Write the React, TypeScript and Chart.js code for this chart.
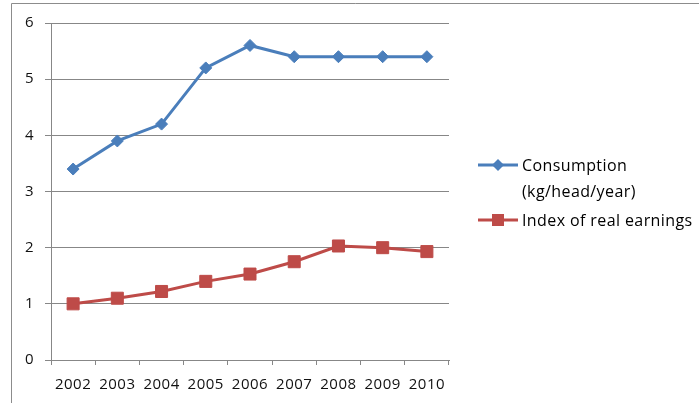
import React, { useEffect, useRef } from "react";
import { Chart, registerables } from "chart.js";

Chart.register(...registerables);

const years = ["2002", "2003", "2004", "2005", "2006", "2007", "2008", "2009", "2010"];
const consumption = [3.4, 3.9, 4.2, 5.2, 5.6, 5.4, 5.4, 5.4, 5.4];
const earnings = [1.0, 1.1, 1.22, 1.4, 1.53, 1.75, 2.03, 2.0, 1.93];
const seriesNames = ["Consumption (kg/head/year)", "Index of real earnings"];
const legendLines = [["Consumption", "(kg/head/year)"], ["Index of real earnings"]];
const yMin = 0;
const yMax = 6;
const yStep = 1;

const BLUE = "#4a7ebb";
const RED = "#be4b48";
const GRID = "#878787";
const FONT = "'Open Sans', Lato, sans-serif";

function drawMarker(ctx: CanvasRenderingContext2D, style: string, x: number, y: number, r: number, color: string) {
  ctx.save();
  ctx.fillStyle = color;
  ctx.beginPath();
  if (style === "rectRot") {
    ctx.moveTo(x, y - r);
    ctx.lineTo(x + r, y);
    ctx.lineTo(x, y + r);
    ctx.lineTo(x - r, y);
    ctx.closePath();
  } else {
    const s = Math.SQRT1_2 * r;
    ctx.rect(x - s, y - s, 2 * s, 2 * s);
  }
  ctx.fill();
  ctx.restore();
}

const framePlugin = {
  id: "frameAndLegend",
  beforeDraw(chart: any) {
    (chart.ctx as any).letterSpacing = "0.5px";
  },
  afterDraw(chart: any) {
    const ctx: CanvasRenderingContext2D = chart.ctx;
    ctx.save();
    // outer frame (partially cropped in the reference)
    ctx.strokeStyle = "#8c8c8c";
    ctx.lineWidth = 1;
    ctx.beginPath();
    ctx.moveTo(11.5, 403);
    ctx.lineTo(11.5, 3.5);
    ctx.lineTo(699, 3.5);
    ctx.stroke();

    // legend
    const lx0 = 478;
    const lx1 = 518;
    const tx = 522;
    const rows = [165, 220];
    ctx.font = `16px ${FONT}`;
    (ctx as any).letterSpacing = "0.4px";
    ctx.textBaseline = "middle";
    ctx.textAlign = "left";
    chart.data.datasets.forEach((ds: any, i: number) => {
      const y = rows[i];
      ctx.strokeStyle = ds.borderColor;
      ctx.lineWidth = 3;
      ctx.beginPath();
      ctx.moveTo(lx0, y);
      ctx.lineTo(lx1, y);
      ctx.stroke();
      drawMarker(ctx, ds.pointStyle, (lx0 + lx1) / 2, y, ds.pointRadius, ds.borderColor);
      ctx.fillStyle = "#000";
      legendLines[i].forEach((line, j) => {
        ctx.fillText(line, tx, y + 1.5 + j * 26);
      });
    });
    ctx.restore();
  },
};

export default function App() {
  const ref = useRef<HTMLCanvasElement | null>(null);

  useEffect(() => {
    if (!ref.current) return;
    const chart = new Chart(ref.current, {
      type: "line",
      data: {
        labels: years,
        datasets: [
          {
            label: seriesNames[0],
            data: consumption,
            borderColor: BLUE,
            backgroundColor: BLUE,
            pointBackgroundColor: BLUE,
            pointBorderColor: BLUE,
            borderWidth: 3,
            pointStyle: "rectRot",
            pointRadius: 6,
            pointBorderWidth: 1,
            tension: 0,
          },
          {
            label: seriesNames[1],
            data: earnings,
            borderColor: RED,
            backgroundColor: RED,
            pointBackgroundColor: RED,
            pointBorderColor: RED,
            borderWidth: 3,
            pointStyle: "rect",
            pointRadius: 8.5,
            pointBorderWidth: 1,
            tension: 0,
          },
        ],
      },
      options: {
        responsive: false,
        animation: false,
        devicePixelRatio: 1,
        layout: { padding: { top: 23, right: 250, left: 0, bottom: 0 } },
        plugins: {
          legend: { display: false },
          tooltip: { enabled: false },
        },
        scales: {
          x: {
            type: "category",
            offset: true,
            grid: {
              display: true,
              drawOnChartArea: false,
              drawTicks: true,
              tickLength: 5,
              color: GRID,
              offset: true,
            },
            border: { display: true, color: GRID, width: 1 },
            ticks: {
              font: { family: FONT, size: 15 },
              color: "#111",
              padding: 11,
              maxRotation: 0,
              autoSkip: false,
            },
            afterFit: (s: any) => {
              s.height = 43;
            },
          },
          y: {
            min: yMin,
            max: yMax,
            ticks: {
              stepSize: yStep,
              padding: 11,
              font: { family: FONT, size: 15 },
              color: "#111",
            },
            grid: { color: GRID, tickLength: 6 },
            border: { display: true, color: GRID, width: 1 },
            afterFit: (s: any) => {
              s.width = 51;
            },
          },
        },
      },
      plugins: [framePlugin],
    } as any);
    return () => chart.destroy();
  }, []);

  return (
    <canvas
      ref={ref}
      width={699}
      height={403}
      style={{ position: "absolute", left: 0, top: 0, width: 699, height: 403 }}
    />
  );
}
